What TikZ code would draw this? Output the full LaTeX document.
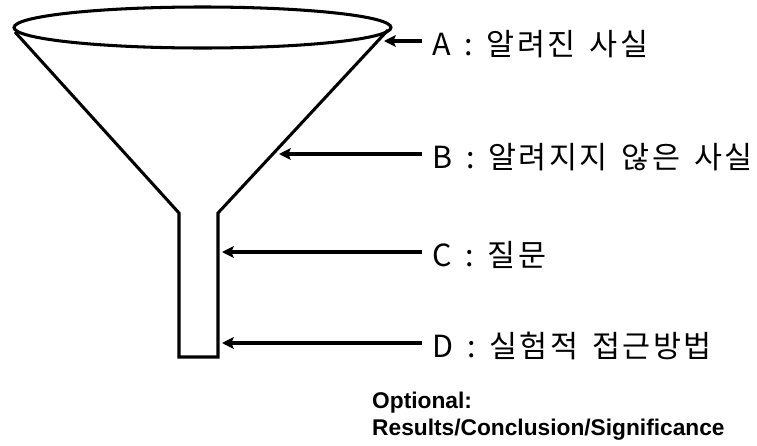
\documentclass[tikz,border=0pt]{standalone}
\usepackage{fontspec}
\setmainfont{Liberation Sans}
\newfontfamily\kofont[LetterSpace=8, WordSpace=1.5]{Noto Sans CJK KR}
\usepackage{tikz}
\usetikzlibrary{arrows.meta}

\begin{document}
\begin{tikzpicture}[x=0.03cm, y=-0.03cm,
  funnelline/.style={line width=2.6pt, line join=miter},
  pointarrow/.style={line width=2.6pt, -{Stealth[length=10pt, width=10pt, inset=2pt]}},
  partlbl/.style={anchor=base west, inner xsep=0.3cm, inner ysep=0pt, font=\kofont\fontsize{26}{30}\selectfont}]
  \useasboundingbox (0,0) rectangle (757,445);
  \draw[funnelline] (202.5,27.5) ellipse [x radius=188.5, y radius=20.5];
  \draw[funnelline] (15,32) -- (179,213) -- (179,357) -- (218,357) -- (218,213) -- (388,30);
  \node[partlbl] (partA) at (422,55) {A : 알려진 사실};
  \node[partlbl] (partB) at (422,168) {B : 알려지지 않은 사실};
  \node[partlbl] (partC) at (422,266) {C : 질문};
  \node[partlbl] (partD) at (422,357) {D : 실험적 접근방법};
  \coordinate (tipA) at (384,41);
  \coordinate (tipB) at (279,154);
  \coordinate (tipC) at (222,252);
  \coordinate (tipD) at (222,343);
  \draw[pointarrow] (partA.west |- tipA) -- (tipA);
  \draw[pointarrow] (partB.west |- tipB) -- (tipB);
  \draw[pointarrow] (partC.west |- tipC) -- (tipC);
  \draw[pointarrow] (partD.west |- tipD) -- (tipD);
  \node[anchor=base west, inner sep=0pt, align=left, font=\bfseries\fontsize{19.4}{23}\selectfont] (optnote) at (372,435) {Optional:\\Results/Conclusion/Significance};
\end{tikzpicture}
\end{document}
